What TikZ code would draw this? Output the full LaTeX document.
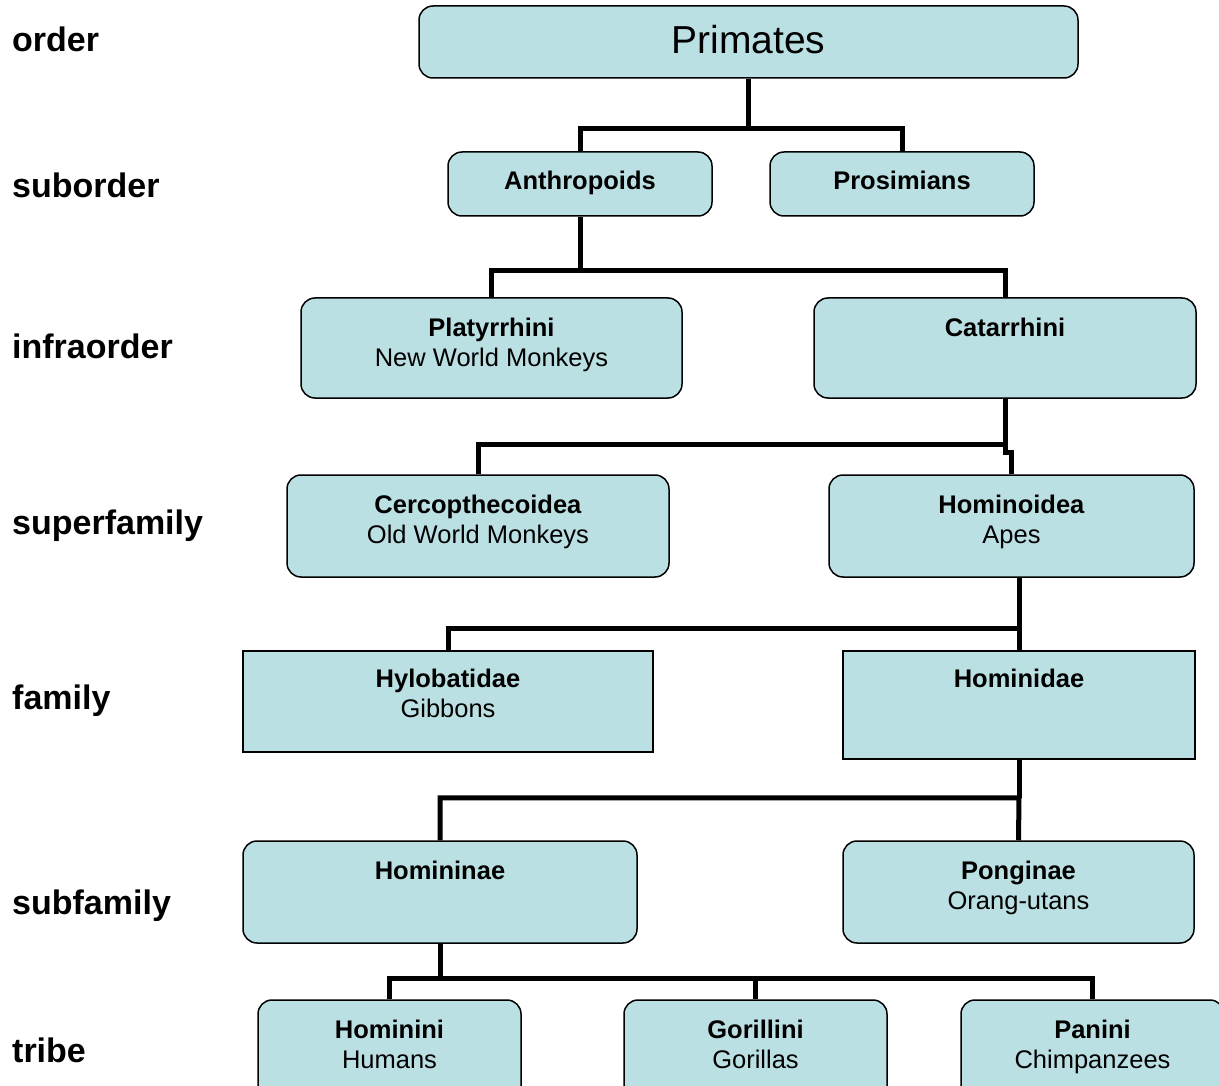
\documentclass[tikz,border=0pt]{standalone}
\usepackage{fontspec}
\setmainfont{Liberation Sans}
\usetikzlibrary{positioning}
\definecolor{boxFill}{RGB}{187,224,227}

\tikzset{
  taxon/.style={draw=black, line width=1.5pt, fill=boxFill, rounded corners=14pt, inner sep=0pt},
  flatbox/.style={taxon, sharp corners},
  taxtext/.style={inner sep=0pt, align=center, font=\fontsize{25.5}{30}\selectfont},
  rank/.style={anchor=base west, inner sep=0pt, font=\fontsize{34}{40}\selectfont\bfseries},
  link/.style={line width=5pt},
}

\begin{document}
\begin{tikzpicture}[x=1pt,y=-1pt]
\useasboundingbox (0,0) rectangle (1219,1086);

% rank names on the left
\node[rank] (order) at (12,52) {order};
\node[rank] (suborder) at (12,198) {suborder};
\node[rank] (infraorder) at (12,358) {infraorder};
\node[rank] (superfamily) at (12,534) {superfamily};
\node[rank] (family) at (12,709) {family};
\node[rank] (subfamily) at (12,914) {subfamily};
\node[rank] (tribe) at (12,1062) {tribe};

% boxes
\node[taxon, minimum width=659pt, minimum height=72pt] (prim) at (748.5,42) {};
\node[taxon, minimum width=264pt, minimum height=64pt] (anth) at (580,184) {};
\node[taxon, minimum width=264pt, minimum height=64pt] (pros) at (902,184) {};
\node[taxon, minimum width=381pt, minimum height=100pt] (plat) at (491.5,348) {};
\node[taxon, minimum width=382pt, minimum height=100pt] (cata) at (1005,348) {};
\node[taxon, minimum width=382pt, minimum height=102pt] (cerc) at (478,526) {};
\node[taxon, minimum width=365pt, minimum height=102pt] (homo) at (1011.5,526) {};
\node[flatbox, minimum width=410pt, minimum height=101pt] (hylo) at (448,701.5) {};
\node[flatbox, minimum width=352pt, minimum height=108pt] (homd) at (1019,705) {};
\node[taxon, minimum width=394pt, minimum height=102pt] (homn) at (440,892) {};
\node[taxon, minimum width=351pt, minimum height=102pt] (pong) at (1018.5,892) {};
\node[taxon, minimum width=263pt, minimum height=100pt] (hmni) at (389.5,1050) {};
\node[taxon, minimum width=263pt, minimum height=100pt] (gori) at (755.5,1050) {};
\node[taxon, minimum width=263pt, minimum height=100pt] (pani) at (1092.5,1050) {};

% texts in the boxes
\node[taxtext, font=\fontsize{39}{44}\selectfont, below=20pt of prim.north] (prim-t) {Primates};
\node[taxtext, below=20pt of anth.north] (anth-t) {\textbf{Anthropoids}};
\node[taxtext, below=20pt of pros.north] (pros-t) {\textbf{Prosimians}};
\node[taxtext, below=21pt of plat.north] (plat-t) {\textbf{Platyrrhini}\\New World Monkeys};
\node[taxtext, below=21pt of cata.north] (cata-t) {\textbf{Catarrhini}};
\node[taxtext, below=21pt of cerc.north] (cerc-t) {\textbf{Cercopthecoidea}\\Old World Monkeys};
\node[taxtext, below=21pt of homo.north] (homo-t) {\textbf{Hominoidea}\\Apes};
\node[taxtext, below=19pt of hylo.north] (hylo-t) {\textbf{Hylobatidae}\\Gibbons};
\node[taxtext, below=19pt of homd.north] (homd-t) {\textbf{Hominidae}};
\node[taxtext, below=21pt of homn.north] (homn-t) {\textbf{Homininae}};
\node[taxtext, below=21pt of pong.north] (pong-t) {\textbf{Ponginae}\\Orang-utans};
\node[taxtext, below=21pt of hmni.north] (hmni-t) {\textbf{Hominini}\\Humans};
\node[taxtext, below=21pt of gori.north] (gori-t) {\textbf{Gorillini}\\Gorillas};
\node[taxtext, below=21pt of pani.north] (pani-t) {\textbf{Panini}\\Chimpanzees};

% connectors
\draw[link] (prim.south) -- ++(0,50) coordinate (j1);
\draw[link] (anth.north) |- (j1) -| (pros.north);

\draw[link] (anth.south) -- ++(0,54) coordinate (j2);
\draw[link] (plat.north) |- (j2) -| (cata.north);

\draw[link] (cata.south) -- ++(0,46) coordinate (j3) -- ++(0,8) -| (homo.north);
\draw[link] (cerc.north) |- (j3);

\draw[link] (homd.north |- homo.south) -- ++(0,51) coordinate (j4);
\draw[link] (hylo.north) |- (j4) -- (homd.north);

\draw[link] (homd.south) -- ++(0,38) coordinate (j5);
\draw[link] (homn.north) |- (j5) -- (pong.north);

\draw[link] (homn.south) -- ++(0,35) coordinate (j6);
\draw[link] (hmni.north) |- (j6) -| (pani.north);
\draw[link] (gori.north) -- (gori.north |- j6);
\end{tikzpicture}
\end{document}
